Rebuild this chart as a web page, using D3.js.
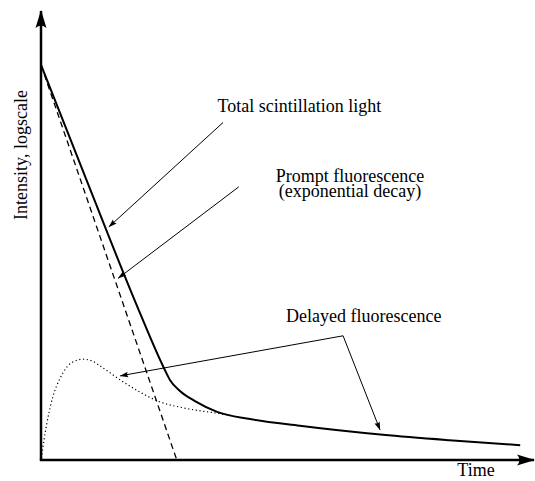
<!DOCTYPE html>
<html lang="en">
<head>
    <meta charset="UTF-8">
    <title>Scintillation light decay</title>
    <script src="https://d3js.org/d3.v7.min.js"></script>
    <style>
        body {
            margin: 0;
            background: #fff;
        }
        text {
            font-family: "Liberation Serif", "Times New Roman", serif;
            font-size: 18px;
            fill: #000;
        }
    </style>
</head>
<body>
    <svg id="chart" width="535" height="481"></svg>

    <script>
        // time / log-intensity in arbitrary units
        const totalTime      = [0, 9.4, 19, 25, 26.2, 28.3, 31.3, 35.8, 42.5, 52.6, 69.5, 83, 97.4];
        const totalIntensity = [87.8, 61.8, 35.6, 20.4, 17.8, 15.3, 13.1, 10.7, 9.1, 7.6, 5.6, 4.4, 3.3];

        const promptTime      = [0, 27.6];
        const promptIntensity = [87.8, 0];

        const delayedTime      = [0.1, 0.6, 1.2, 2.4, 3.9, 5.3, 6.9, 8.5, 10.4, 12, 16.1, 20.1, 24.2, 28.9, 35.8, 38.4];
        const delayedIntensity = [0.4, 4.4, 8.2, 14, 18.2, 20.7, 22, 22.4, 22, 20.9, 17.8, 15.1, 12.9, 11.6, 10.4, 10];

        const zip = (xs, ys) => xs.map((t, i) => ({ t: t, v: ys[i] }));
        const total = zip(totalTime, totalIntensity);
        const prompt = zip(promptTime, promptIntensity);
        const delayed = zip(delayedTime, delayedIntensity);

        const svg = d3.select("#chart");

        const x = d3.scaleLinear().domain([0, 100]).range([41, 533]);
        const y = d3.scaleLinear().domain([0, 100]).range([460, 10]);

        const defs = svg.append("defs");
        defs.append("marker")
            .attr("id", "axis-head")
            .attr("markerUnits", "userSpaceOnUse")
            .attr("viewBox", "-20 -7 22 14")
            .attr("markerWidth", 22)
            .attr("markerHeight", 14)
            .attr("refX", 0)
            .attr("refY", 0)
            .attr("orient", "auto")
          .append("path")
            .attr("d", "M1,0 L-17,-5.5 Q-12,0 -17,5.5 Z")
            .attr("fill", "#000");

        defs.append("marker")
            .attr("id", "small-head")
            .attr("markerUnits", "userSpaceOnUse")
            .attr("viewBox", "-10 -4 11 8")
            .attr("markerWidth", 11)
            .attr("markerHeight", 8)
            .attr("refX", 0)
            .attr("refY", 0)
            .attr("orient", "auto")
          .append("path")
            .attr("d", "M0.5,0 L-8,-2.8 Q-6,0 -8,2.8 Z")
            .attr("fill", "#000");

        // axes
        svg.append("line")
            .attr("x1", x(0)).attr("y1", y(0))
            .attr("x2", x(0)).attr("y2", y(100) + 1)
            .attr("stroke", "#000")
            .attr("stroke-width", 2.5)
            .attr("marker-end", "url(#axis-head)");

        svg.append("line")
            .attr("x1", x(0) - 1.2).attr("y1", y(0))
            .attr("x2", x(100) + 1).attr("y2", y(0))
            .attr("stroke", "#000")
            .attr("stroke-width", 2.5)
            .attr("marker-end", "url(#axis-head)");

        const line = d3.line()
            .x(d => x(d.t))
            .y(d => y(d.v))
            .curve(d3.curveMonotoneX);

        svg.append("path")
            .datum(delayed)
            .attr("d", line)
            .attr("fill", "none")
            .attr("stroke", "#000")
            .attr("stroke-width", 1.2)
            .attr("stroke-dasharray", "1.2,2.6");

        svg.append("path")
            .datum(prompt)
            .attr("d", line)
            .attr("fill", "none")
            .attr("stroke", "#000")
            .attr("stroke-width", 1.3)
            .attr("stroke-dasharray", "6,4");

        svg.append("path")
            .datum(total)
            .attr("d", line)
            .attr("fill", "none")
            .attr("stroke", "#000")
            .attr("stroke-width", 2);

        // annotation arrows
        const arrows = [
            [[37, 75], [13.8, 51.8]],
            [[40.2, 60.7], [15.7, 40.4]],
            [[61.4, 27.6], [16.1, 18.7]],
            [[61.4, 27.6], [68.9, 6.7]]
        ];

        svg.selectAll(".arrow")
            .data(arrows)
            .enter().append("line")
            .attr("class", "arrow")
            .attr("x1", d => x(d[0][0])).attr("y1", d => y(d[0][1]))
            .attr("x2", d => x(d[1][0])).attr("y2", d => y(d[1][1]))
            .attr("stroke", "#000")
            .attr("stroke-width", 1)
            .attr("marker-end", "url(#small-head)");

        const labels = [
            { t: 52.5, v: 77.3, lines: ["Total scintillation light"] },
            { t: 62.8, v: 61.8, lines: ["Prompt fluorescence", "(exponential decay)"] },
            { t: 65.6, v: 30.7, lines: ["Delayed fluorescence"] }
        ];

        const label = svg.selectAll(".label")
            .data(labels)
            .enter().append("text")
            .attr("class", "label")
            .attr("y", d => y(d.v))
            .attr("text-anchor", "middle");

        label.selectAll("tspan")
            .data(d => d.lines.map((s, i) => ({ s: s, i: i, t: d.t })))
            .enter().append("tspan")
            .attr("x", d => x(d.t))
            .attr("dy", d => d.i === 0 ? 0 : 15)
            .text(d => d.s);

        svg.append("text")
            .attr("x", 476)
            .attr("y", 476)
            .attr("text-anchor", "middle")
            .text("Time");

        svg.append("text")
            .attr("transform", "translate(27,155) rotate(-90)")
            .attr("text-anchor", "middle")
            .text("Intensity, logscale");
    </script>
</body>
</html>
